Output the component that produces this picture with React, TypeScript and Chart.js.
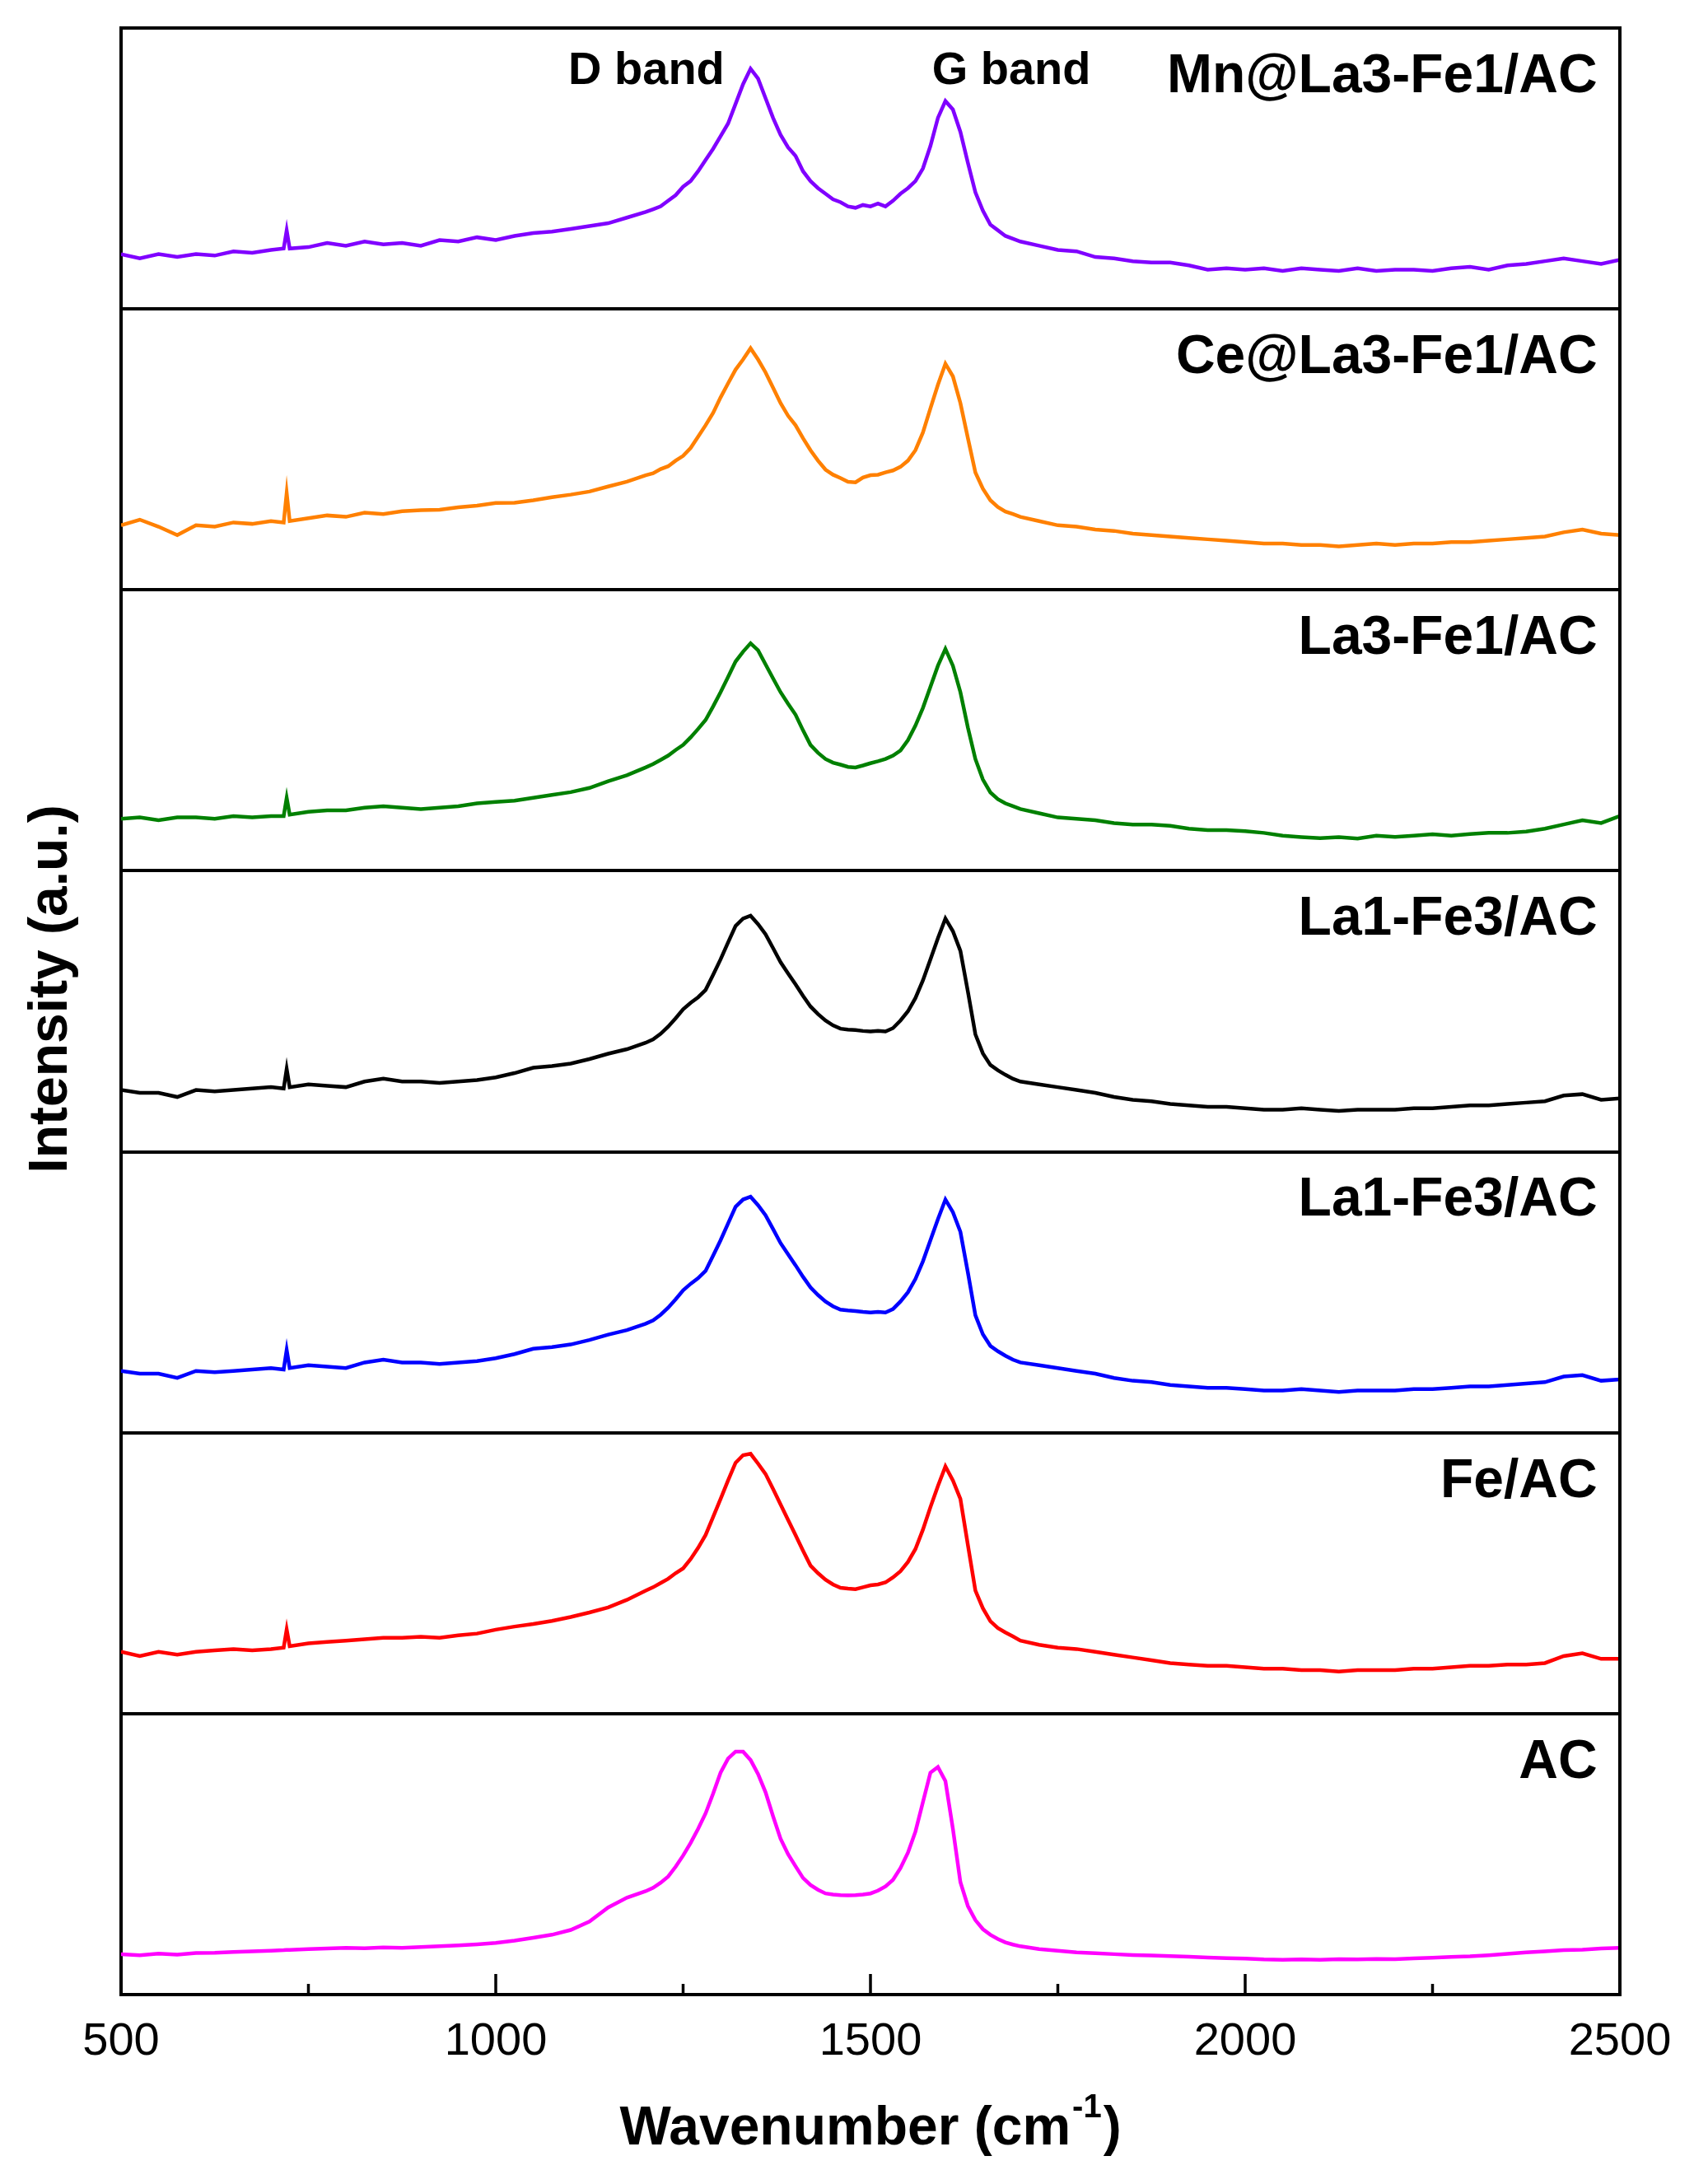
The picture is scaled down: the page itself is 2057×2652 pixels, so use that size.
import React, { useEffect, useRef } from "react";
import { Chart, registerables } from "chart.js";

Chart.register(...registerables);

// ---- data (intensity in % of each panel's height) ----
const WAVENUMBER = [
  500, 525, 550, 575, 600, 625, 650, 675, 700, 717, 721, 725, 750, 775, 800, 825, 850, 875, 900, 925,
  950, 975, 1000, 1025, 1050, 1075, 1100, 1125, 1150, 1175, 1200,
  1210, 1220, 1230, 1240, 1250, 1260, 1270, 1280, 1290, 1300, 1310, 1320, 1330, 1340,
  1350, 1360, 1370, 1380, 1390, 1400, 1410, 1420, 1430, 1440, 1450, 1460, 1470, 1480, 1490, 1500,
  1510, 1520, 1530, 1540, 1550, 1560, 1570, 1580, 1590, 1600, 1610, 1620, 1630, 1640, 1650, 1660,
  1670, 1680, 1690, 1700,
  1725, 1750, 1775, 1800, 1825, 1850, 1875, 1900, 1925, 1950, 1975, 2000, 2025, 2050, 2075, 2100,
  2125, 2150, 2175, 2200, 2225, 2250, 2275, 2300, 2325, 2350, 2375, 2400, 2425, 2450, 2475, 2500,
];

const MN_LA3FE1_AC = [
  19.5, 18, 19.5, 18.5, 19.5, 19, 20.5, 20, 21, 21.5, 28, 21.5, 22, 23.5, 22.5, 24, 23, 23.5, 22.5, 24.5,
  24, 25.5, 24.5, 26, 27, 27.5, 28.5, 29.5, 30.5, 32.5, 34.5,
  35.5, 36.5, 38.5, 40.5, 43.5, 45.5, 49, 53, 57, 61.5, 66, 73, 80, 85.5,
  82, 75, 68, 62, 57.5, 54.5, 49, 45.5, 43, 41, 39, 38, 36.5, 36, 37, 36.5,
  37.5, 36.5, 38.5, 41, 43, 45.5, 50, 58, 68, 74, 71, 63, 52, 41.5, 35, 30, 28, 26, 25, 24,
  22.5, 21, 20.5, 18.5, 18, 17, 16.5, 16.5, 15.5, 14, 14.5, 14, 14.5, 13.5, 14.5, 14,
  13.5, 14.5, 13.5, 14, 14, 13.5, 14.5, 15, 14, 15.5, 16, 17, 18, 17, 16, 17.5,
];

const CE_LA3FE1_AC = [
  23, 25, 22.5, 19.5, 23, 22.5, 24, 23.5, 24.5, 24, 34.5, 24.5, 25.5, 26.5, 26, 27.5, 27, 28, 28.4, 28.5,
  29.4, 30, 30.9, 31, 31.9, 33, 33.9, 35, 36.8, 38.5, 40.8,
  41.5, 43, 44, 46, 47.7, 50.5, 54.5, 58.6, 63, 68.5, 73.5, 78.4, 82, 86,
  82, 77.4, 72, 66.5, 62, 58.6, 54, 49.7, 46, 42.8, 41, 39.8, 38.5, 38.3, 40, 40.8,
  41, 41.8, 42.5, 43.8, 46, 49.7, 56, 64.6, 73, 80.5, 76, 66.5, 54, 41.8, 36, 31.9, 29.5, 27.9, 27, 26,
  24.5, 23, 22.5, 21.5, 21, 20, 19.5, 19, 18.5, 18, 17.5, 17, 16.5, 16.5, 16, 16,
  15.5, 16, 16.5, 16, 16.5, 16.5, 17, 17, 17.5, 18, 18.5, 19, 20.5, 21.5, 20, 19.5,
];

const LA3FE1_AC = [
  18.5, 19, 18, 19, 19, 18.5, 19.5, 19, 19.5, 19.5, 26, 20, 21, 21.5, 21.5, 22.5, 23, 22.5, 22, 22.5,
  23, 24, 24.5, 25, 26, 27, 28, 29.5, 31.9, 34, 36.8,
  38, 39.5, 41, 43, 44.8, 47.5, 50.5, 53.7, 58.5, 63.6, 69, 74.5, 78, 81,
  78.5, 73.5, 68.5, 63.6, 59.5, 55.6, 50, 44.8, 42, 39.8, 38.5, 37.8, 37, 36.8, 37.5, 38.3,
  39, 39.8, 41, 42.8, 46.5, 51.7, 58, 65.5, 73, 79, 73, 63.6, 51, 39.8, 32.5, 27.9, 25.5, 24, 23, 22,
  20.5, 19, 18.5, 18, 17, 16.5, 16.5, 16, 15, 14.5, 14.5, 14.1, 13.5, 12.5, 12, 11.6,
  12, 11.5, 12.5, 12.1, 12.5, 13, 12.5, 13.1, 13.5, 13.5, 14, 15, 16.5, 18, 17, 19.5,
];

const LA1FE3_AC_BLACK = [
  22, 21, 21, 19.5, 22, 21.5, 22, 22.5, 23, 22.5, 29.5, 23, 24, 23.5, 23, 25, 26, 25, 25, 24.5,
  25, 25.5, 26.5, 28, 29.9, 30.5, 31.4, 33, 34.9, 36.5, 38.8,
  40, 42, 44.5, 47.5, 50.7, 53, 55, 57.6, 63, 68.5, 74.5, 80.4, 83, 84,
  81, 77.4, 72.5, 67.5, 63.5, 59.6, 55.5, 51.7, 49, 46.7, 45, 43.8, 43.5, 43.3, 43, 42.8,
  43, 42.8, 44, 46.7, 50, 54.7, 61, 68.5, 76, 83, 78.5, 71.5, 57, 41.8, 35, 30.9, 29, 27.4, 26, 25,
  24, 23, 22, 21, 19.5, 18.5, 18, 17, 16.5, 16, 16, 15.5, 15, 15, 15.5, 15,
  14.5, 15, 15, 15, 15.5, 15.5, 16, 16.5, 16.5, 17, 17.5, 18, 20, 20.5, 18.5, 19,
];

const LA1FE3_AC_BLUE = [
  22, 21, 21, 19.5, 22, 21.5, 22, 22.5, 23, 22.5, 29.5, 23, 24, 23.5, 23, 25, 26, 25, 25, 24.5,
  25, 25.5, 26.5, 28, 29.9, 30.5, 31.4, 33, 34.9, 36.5, 38.8,
  40, 42, 44.5, 47.5, 50.7, 53, 55, 57.6, 63, 68.5, 74.5, 80.4, 83, 84,
  81, 77.4, 72.5, 67.5, 63.5, 59.6, 55.5, 51.7, 49, 46.7, 45, 43.8, 43.5, 43.3, 43, 42.8,
  43, 42.8, 44, 46.7, 50, 54.7, 61, 68.5, 76, 83, 78.5, 71.5, 57, 41.8, 35, 30.9, 29, 27.4, 26, 25,
  24, 23, 22, 21, 19.5, 18.5, 18, 17, 16.5, 16, 16, 15.5, 15, 15, 15.5, 15,
  14.5, 15, 15, 15, 15.5, 15.5, 16, 16.5, 16.5, 17, 17.5, 18, 20, 20.5, 18.5, 19,
];

const FE_AC = [
  22, 20.5, 22, 21, 22, 22.5, 23, 22.5, 23, 23.5, 30, 24, 25, 25.5, 26, 26.5, 27, 27, 27.4, 27,
  27.9, 28.5, 29.9, 31, 31.9, 33, 34.4, 36, 37.8, 40.5, 43.8,
  45, 46.5, 48, 50, 51.7, 55, 59, 63.6, 70, 76.4, 83, 89.3, 92, 92.5,
  89, 85.3, 80, 74.5, 69, 63.6, 58, 52.7, 50, 47.7, 46, 44.8, 44.5, 44.3, 45, 45.7,
  46, 46.7, 48.5, 50.7, 54, 58.6, 65.5, 73.5, 81, 88, 83, 76.4, 60, 43.8, 37.5, 32.9, 30.5, 28.9, 27.5, 26,
  24.5, 23.5, 23, 22, 21, 20, 19, 18, 17.5, 17, 17, 16.5, 16, 16, 15.5, 15.5,
  15, 15.5, 15.5, 15.5, 16, 16, 16.5, 17, 17, 17.5, 17.5, 18, 20.5, 21.5, 19.5, 19.5,
];

const AC = [
  14.4, 14.0, 14.6, 14.2, 14.8, 14.9, 15.2, 15.4, 15.6, 15.8, 15.9, 15.9, 16.2, 16.4, 16.6, 16.5, 16.8, 16.6, 16.9, 17.2,
  17.5, 17.9, 18.4, 19.2, 20.2, 21.3, 23.0, 26, 31, 34.5, 36.8,
  38, 39.8, 42, 45.5, 49.5, 54, 59, 64.5, 71.5, 79, 84, 86.5, 86.5, 83.5,
  78.5, 72, 63.5, 55.5, 50, 45.7, 41.5, 39, 37.3, 36, 35.6, 35.4, 35.3, 35.4, 35.6, 36,
  37, 38.5, 40.8, 45, 50.5, 58, 68.5, 79, 81, 76, 59, 40, 31.5, 26.5, 23.3, 21.3, 19.8, 18.6, 17.8, 17.2,
  16.2, 15.6, 15.0, 14.7, 14.4, 14.1, 13.9, 13.7, 13.5, 13.2, 13.0, 12.8, 12.5, 12.4, 12.5, 12.4,
  12.6, 12.5, 12.7, 12.6, 12.9, 13.1, 13.4, 13.6, 14.0, 14.5, 15.0, 15.4, 15.8, 16.0, 16.4, 16.6,
];

const SAMPLE_NAMES = [
  "Mn@La3-Fe1/AC",
  "Ce@La3-Fe1/AC",
  "La3-Fe1/AC",
  "La1-Fe3/AC",
  "La1-Fe3/AC",
  "Fe/AC",
  "AC",
];
const SAMPLE_VALUES = [MN_LA3FE1_AC, CE_LA3FE1_AC, LA3FE1_AC, LA1FE3_AC_BLACK, LA1FE3_AC_BLUE, FE_AC, AC];
const SAMPLE_COLORS = ["#8000FF", "#FF8000", "#008000", "#000000", "#0000FF", "#FF0000", "#FF00FF"];

const X_TICKS_MAJOR = [500, 1000, 1500, 2000, 2500];
const X_TICKS_MINOR = [750, 1250, 1750, 2250];
const BAND_LABELS = ["D band", "G band"];
const BAND_POSITIONS = [1201, 1688];

const PANEL_HEIGHT = 100;
const FONT = '"Liberation Sans", Arial, sans-serif';

export default function App() {
  const canvasRef = useRef<HTMLCanvasElement | null>(null);

  useEffect(() => {
    const canvas = canvasRef.current;
    if (!canvas) return;
    const nPanels = SAMPLE_NAMES.length;

    const datasets = SAMPLE_NAMES.map((name, k) => {
      const offset = (nPanels - 1 - k) * PANEL_HEIGHT;
      return {
        label: name,
        data: WAVENUMBER.map((x, i) => ({ x, y: offset + SAMPLE_VALUES[k][i] })),
        borderColor: SAMPLE_COLORS[k],
        backgroundColor: SAMPLE_COLORS[k],
        borderWidth: 4.5,
        pointRadius: 0,
        tension: 0,
        fill: false,
      };
    });

    const annotate = {
      id: "annotate",
      afterDraw(chart: any) {
        const { ctx, chartArea: ca } = chart;
        const xs = chart.scales.x;
        const ys = chart.scales.y;
        ctx.save();
        // top and right frame
        ctx.strokeStyle = "#000";
        ctx.lineWidth = 4;
        ctx.beginPath();
        ctx.moveTo(ca.left - 2, ca.top);
        ctx.lineTo(ca.right, ca.top);
        ctx.lineTo(ca.right, ca.bottom + 2);
        ctx.stroke();
        // inward ticks on bottom axis
        ctx.lineWidth = 3.5;
        ctx.beginPath();
        X_TICKS_MAJOR.forEach((v) => {
          const px = xs.getPixelForValue(v);
          ctx.moveTo(px, ca.bottom);
          ctx.lineTo(px, ca.bottom - 25);
        });
        X_TICKS_MINOR.forEach((v) => {
          const px = xs.getPixelForValue(v);
          ctx.moveTo(px, ca.bottom);
          ctx.lineTo(px, ca.bottom - 13);
        });
        ctx.stroke();

        // panel labels
        ctx.fillStyle = "#000";
        ctx.font = `bold 66px ${FONT}`;
        ctx.textAlign = "right";
        ctx.textBaseline = "middle";
        SAMPLE_NAMES.forEach((name, k) => {
          const yv = (nPanels - 1 - k) * PANEL_HEIGHT + 82.5;
          ctx.fillText(name, xs.getPixelForValue(2470), ys.getPixelForValue(yv));
        });

        // band labels
        ctx.font = `bold 56px ${FONT}`;
        ctx.textAlign = "center";
        BAND_LABELS.forEach((t, i) => {
          ctx.fillText(t, xs.getPixelForValue(BAND_POSITIONS[i]), ys.getPixelForValue((nPanels - 1) * PANEL_HEIGHT + 84.5));
        });

        // y axis title
        ctx.save();
        ctx.translate(55, (ca.top + ca.bottom) / 2 - 27);
        ctx.rotate(-Math.PI / 2);
        ctx.font = `bold 66px ${FONT}`;
        ctx.textAlign = "center";
        ctx.textBaseline = "middle";
        ctx.fillText("Intensity (a.u.)", 0, 0);
        ctx.restore();

        // x axis title with superscript
        const mainFont = `bold 66px ${FONT}`;
        const supFont = `bold 40px ${FONT}`;
        const t1 = "Wavenumber (cm";
        const t2 = "-1";
        const t3 = ")";
        ctx.font = mainFont;
        const w1 = ctx.measureText(t1).width;
        const w3 = ctx.measureText(t3).width;
        ctx.font = supFont;
        const w2 = ctx.measureText(t2).width;
        const total = w1 + w2 + w3 + 4;
        const cx = (ca.left + ca.right) / 2;
        const cy = 2578;
        let sx = cx - total / 2;
        ctx.textAlign = "left";
        ctx.textBaseline = "middle";
        ctx.font = mainFont;
        ctx.fillText(t1, sx, cy);
        sx += w1 + 2;
        ctx.font = supFont;
        ctx.fillText(t2, sx, cy - 26);
        sx += w2 + 2;
        ctx.font = mainFont;
        ctx.fillText(t3, sx, cy);
        ctx.restore();
      },
    };

    const chart = new Chart(canvas, {
      type: "line",
      data: { datasets: datasets as any },
      options: {
        responsive: false,
        animation: false,
        layout: { padding: { left: 0, right: 82, top: 26, bottom: 0 } },
        plugins: { legend: { display: false }, tooltip: { enabled: false } },
        scales: {
          x: {
            type: "linear",
            min: 500,
            max: 2500,
            ticks: {
              stepSize: 500,
              color: "#000",
              font: { family: FONT, size: 56 },
              padding: 24,
              maxRotation: 0,
              autoSkip: false,
              callback: (v: any) => String(v),
            },
            grid: { display: false, drawTicks: false },
            border: { display: true, color: "#000", width: 4 },
            afterFit: (s: any) => {
              s.height = 222;
              s.paddingLeft = 0;
              s.paddingRight = 0;
            },
          },
          y: {
            type: "linear",
            min: 0,
            max: 700,
            ticks: { display: false, stepSize: 100 },
            grid: { color: "#000", lineWidth: 4, drawTicks: false },
            border: { display: true, color: "#000", width: 4 },
            afterFit: (s: any) => {
              s.width = 139;
              s.paddingTop = 0;
              s.paddingBottom = 0;
            },
          },
        },
      },
      plugins: [annotate],
    });

    return () => chart.destroy();
  }, []);

  return (
    <div style={{ width: 2041, height: 2636 }}>
      <canvas ref={canvasRef} width={2041} height={2636} style={{ width: 2041, height: 2636, display: "block" }} />
    </div>
  );
}
